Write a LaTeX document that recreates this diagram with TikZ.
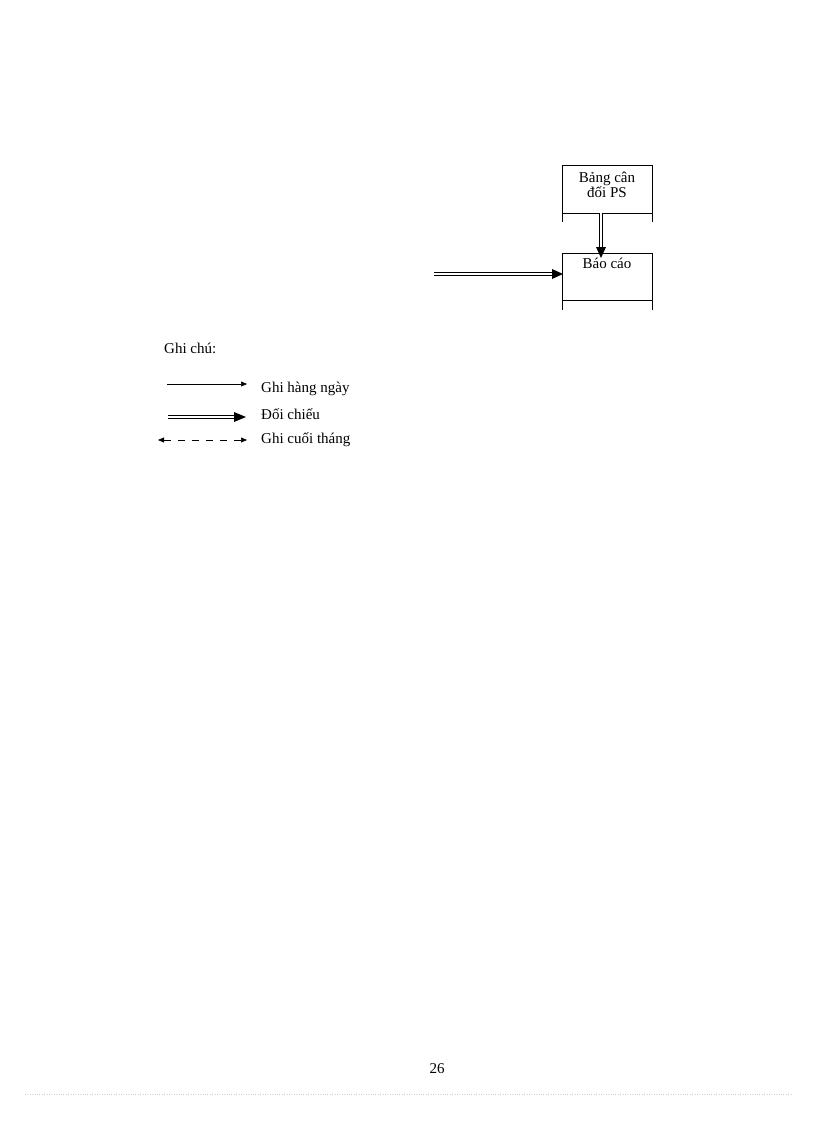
\documentclass[tikz,border=0pt]{standalone}
\usepackage{fontspec}
\setmainfont{Liberation Serif}
\usetikzlibrary{arrows.meta}
\begin{document}
\begin{tikzpicture}[x=1pt,y=-1pt,
  lbl/.style={anchor=west,font=\fontsize{15}{16}\selectfont,inner sep=0},
  tip/.style={-{Triangle[length=9pt,width=8pt]}},
  dbl/.style={double,double distance=2pt,line width=0.7pt}]
\useasboundingbox (0,0) rectangle (816,1123);
% boxes
\coordinate (b1tl) at (562,165); \coordinate (b1tr) at (652,165);
\draw (562,222) -- (562,165) -- (652,165) -- (652,222);
\draw (562,213) -- (652,213);
\node[font=\fontsize{15}{15}\selectfont,align=center,inner sep=0] (b1) at (607,185) {Bảng cân\\đối PS};
\draw (562,310) -- (562,253) -- (652,253) -- (652,310);
\draw (562,300) -- (652,300);
\node[font=\fontsize{15}{15}\selectfont,inner sep=0] (b2) at (607,263) {Báo cáo};
\coordinate (a1) at (601,213); \coordinate (a2) at (601,250);
\coordinate (c1) at (434,274); \coordinate (c2) at (556,274);
\draw[dbl] (601,213) -- (601,247);
\fill (596,247) -- (606,247) -- (601,258) -- cycle;
\draw[dbl] (434,274) -- (552,274);
\fill (552,269) -- (552,279) -- (563,274) -- cycle;
% legend
\node[lbl] (gc) at (164,348) {Ghi chú:};
\coordinate (l1a) at (167,384); \coordinate (l1b) at (247,384);
\draw[-{Triangle[length=6pt,width=5pt]},line width=0.5pt] (l1a) -- (l1b);
\node[lbl] (t1) at (261,389) {Ghi hàng ngày};
\draw[dbl] (168,417) -- (236,417);
\fill (234,412) -- (234,422) -- (246,417) -- cycle;
\node[lbl] (t2) at (261,414) {Đối chiếu};
\coordinate (l3a) at (158,440); \coordinate (l3b) at (247,440);
\draw[{Triangle[length=6pt,width=5pt]}-{Triangle[length=6pt,width=5pt]},dash pattern=on 7pt off 7pt,line width=0.5pt] (l3a) -- (l3b);
\node[lbl] (t3) at (261,440) {Ghi cuối tháng};
\node[font=\fontsize{15}{16}\selectfont] (pg) at (437,1069) {26};
\draw[gray!40,dotted] (25,1094) -- (792,1094);
\end{tikzpicture}
\end{document}
